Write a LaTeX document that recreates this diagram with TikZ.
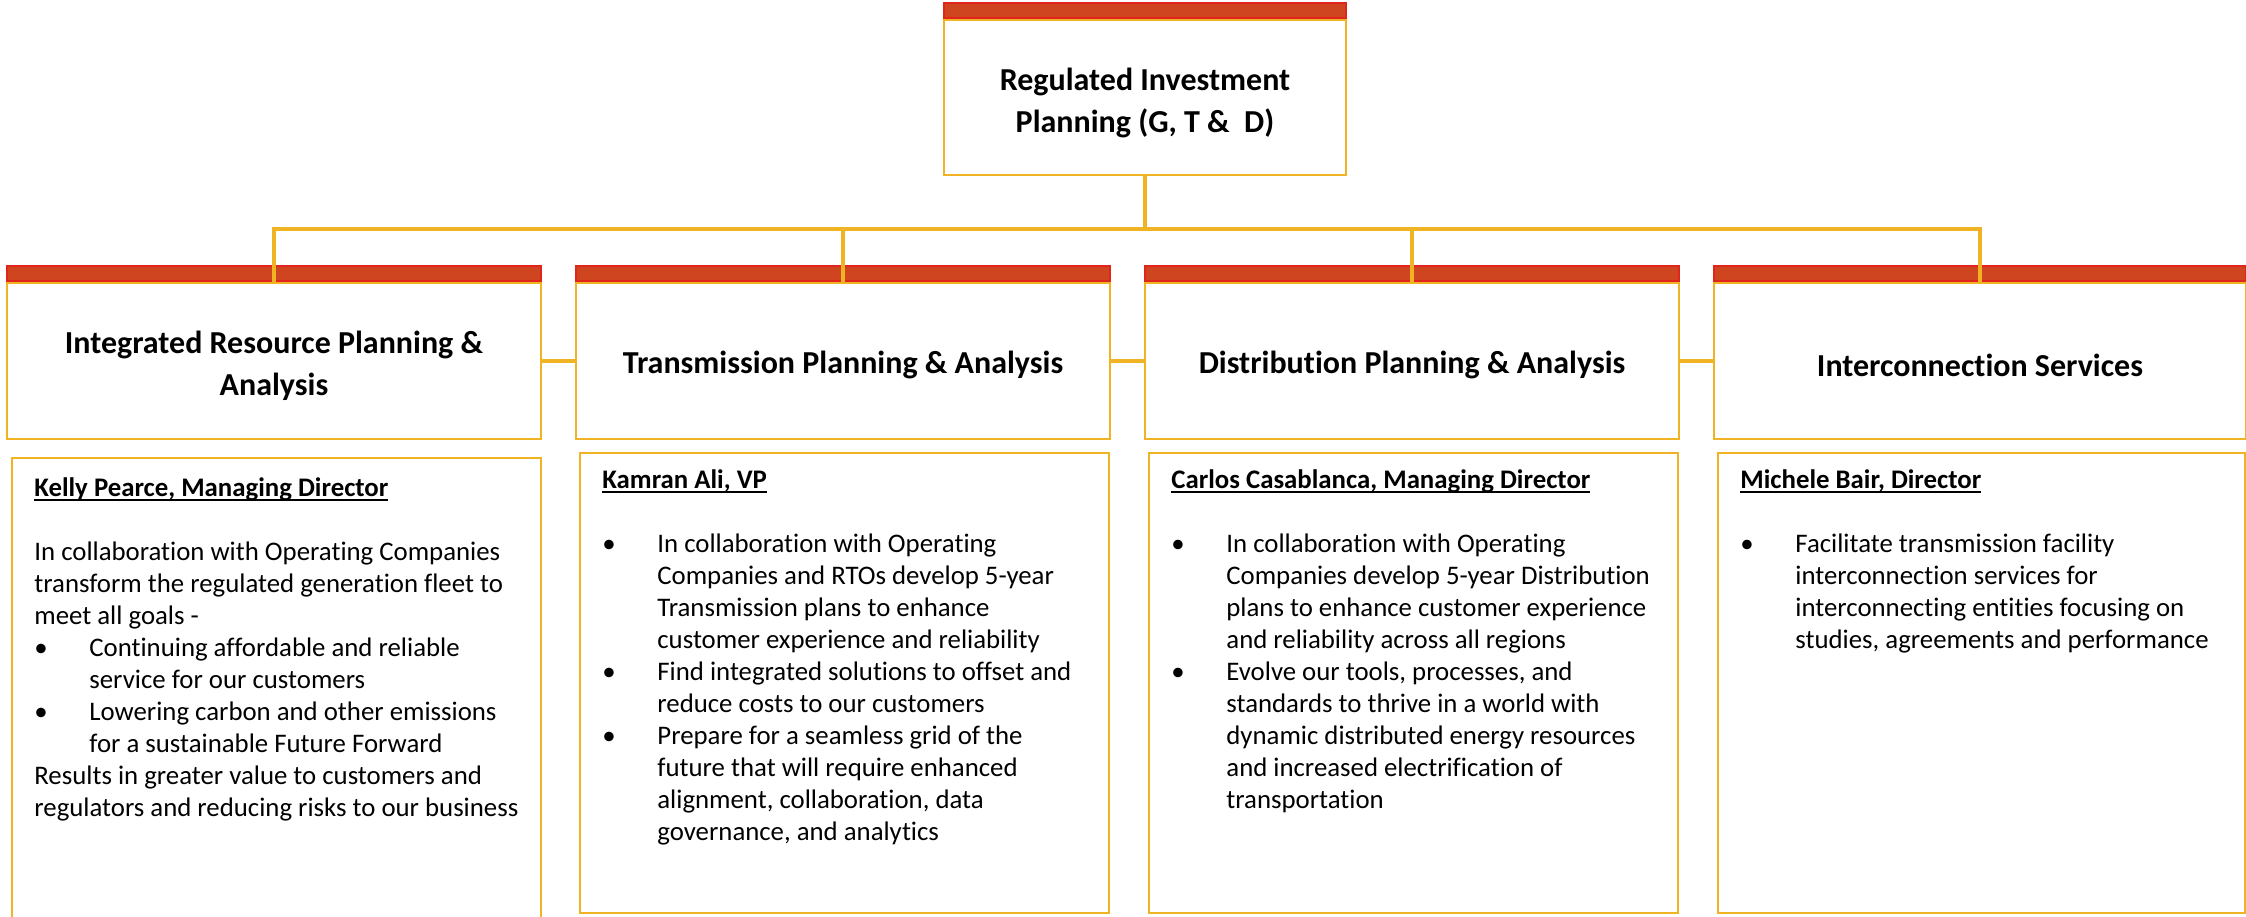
\documentclass[tikz,border=0pt]{standalone}
\usepackage{fontspec}
\setmainfont{Carlito}[Ligatures=NoCommon]
\usetikzlibrary{positioning}
\definecolor{barred}{HTML}{CF4520}
\definecolor{barline}{HTML}{E0261C}
\definecolor{gold}{HTML}{F0B323}
\newcommand{\blt}{\makebox[27.5pt][l]{\textbullet}}
\newcommand{\ind}{\hspace*{27.5pt}}
\newcommand{\headline}[1]{\setbox0\hbox{\textbf{#1}}\rlap{\rule[-2.3pt]{\wd0}{0.9pt}}\box0}
\begin{document}
\begin{tikzpicture}[x=0.5pt,y=-0.5pt,
  hdr/.style={draw=gold,line width=1pt,fill=white,minimum width=267pt,minimum height=78pt,inner sep=0pt},
  hdrtxt/.style={align=center,inner sep=0pt,yshift=-2.2pt,font=\fontsize{16}{21}\selectfont\bfseries},
  bar/.style={draw=barline,fill=barred,line width=.8pt,minimum width=267pt,minimum height=7.5pt,inner sep=0pt},
  desc/.style={draw=gold,line width=1pt,minimum width=264.5pt,minimum height=230pt,inner sep=0pt},
  body/.style={anchor=north west,align=left,inner sep=0pt,font=\fontsize{13.4}{16}\selectfont},
  link/.style={draw=gold,line width=2.2pt}]
\useasboundingbox (0,0) rectangle (2246,916);
% top box
\node[hdr,minimum width=201pt,minimum height=77.5pt] (rip) at (1145,97.5) {};
\node[bar,minimum width=201pt,above=0pt of rip] (ripbar) {};
\node[hdrtxt,yshift=-.6pt] (riptxt) at (rip) {Regulated Investment\\Planning (G, T \& \ D)};
% group heads
\node[hdr] (irp) at (274,361) {};
\node[hdr] (tpa) at (843,361) {};
\node[hdr] (dpa) at (1412,361) {};
\node[hdr,minimum width=266pt] (ics) at (1980,361) {};
\node[bar,above=0pt of irp] (irpbar) {};
\node[bar,above=0pt of tpa] (tpabar) {};
\node[bar,above=0pt of dpa] (dpabar) {};
\node[bar,minimum width=266pt,above=0pt of ics] (icsbar) {};
\node[hdrtxt] (irptxt) at (irp) {Integrated Resource Planning \&\\Analysis};
\node[hdrtxt] (tpatxt) at (tpa) {Transmission Planning \& Analysis};
\node[hdrtxt] (dpatxt) at (dpa) {Distribution Planning \& Analysis};
\node[hdrtxt] (icstxt) at (ics) {Interconnection Services};
% connectors
\coordinate (bus) at (1145,229);
\draw[link] (rip.south) -- (bus);
\draw[link] (irp.north) -- (irp.north |- bus) -- (ics.north |- bus) -- (ics.north);
\draw[link] (tpa.north) -- (tpa.north |- bus);
\draw[link] (dpa.north) -- (dpa.north |- bus);
\draw[link] (irp.east) -- (tpa.west);
\draw[link] (tpa.east) -- (dpa.west);
\draw[link] (dpa.east) -- (ics.west);
% description boxes
\node[desc,minimum height=251pt] (irpd) at (276.5,709) {};
\node[desc] (tpad) at (844.5,683) {};
\node[desc] (dpad) at (1413.5,683) {};
\node[desc,minimum width=263.5pt] (icsd) at (1981.5,683) {};
\node[body] (irpt) at ([shift={(23,20)}]irpd.north west) {\headline{Kelly Pearce, Managing Director}\\[16pt]
In collaboration with Operating Companies\\
transform the regulated generation fleet to\\
meet all goals -\\
\blt Continuing affordable and reliable\\
\ind service for our customers\\
\blt Lowering carbon and other emissions\\
\ind for a sustainable Future Forward\\
Results in greater value to customers and\\
regulators and reducing risks to our business};
\node[body] (tpat) at ([shift={(23,17)}]tpad.north west) {\headline{Kamran Ali, VP}\\[16pt]
\blt In collaboration with Operating\\
\ind Companies and RTOs develop 5-year\\
\ind Transmission plans to enhance\\
\ind customer experience and reliability\\
\blt Find integrated solutions to offset and\\
\ind reduce costs to our customers\\
\blt Prepare for a seamless grid of the\\
\ind future that will require enhanced\\
\ind alignment, collaboration, data\\
\ind governance, and analytics};
\node[body] (dpat) at ([shift={(23,17)}]dpad.north west) {\headline{Carlos Casablanca, Managing Director}\\[16pt]
\blt In collaboration with Operating\\
\ind Companies develop 5-year Distribution\\
\ind plans to enhance customer experience\\
\ind and reliability across all regions\\
\blt Evolve our tools, processes, and\\
\ind standards to thrive in a world with\\
\ind dynamic distributed energy resources\\
\ind and increased electrification of\\
\ind transportation};
\node[body] (icst) at ([shift={(23,17)}]icsd.north west) {\headline{Michele Bair, Director}\\[16pt]
\blt Facilitate transmission facility\\
\ind interconnection services for\\
\ind interconnecting entities focusing on\\
\ind studies, agreements and performance};
\end{tikzpicture}
\end{document}
